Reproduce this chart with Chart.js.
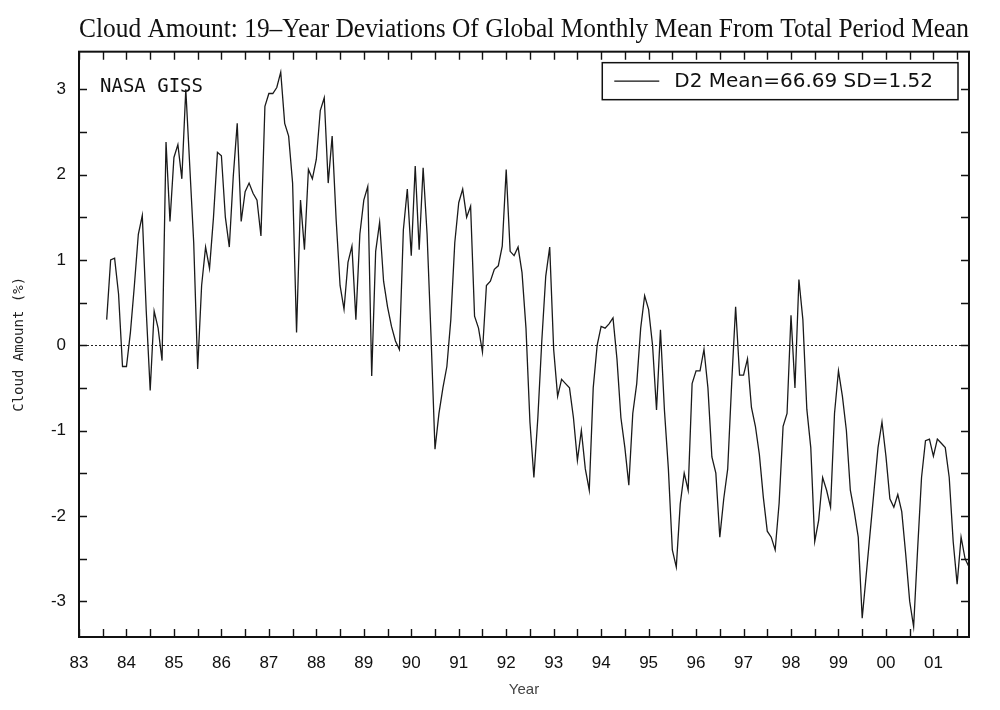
<!DOCTYPE html>
<html>
<head>
<meta charset="utf-8">
<title>Cloud Amount Deviations</title>
<script src="https://cdn.jsdelivr.net/npm/chart.js@4.4.1/dist/chart.umd.min.js"></script>
<style>
  html, body { margin: 0; padding: 0; background: #fff; }
  #wrap { width: 1000px; height: 710px; }
</style>
</head>
<body>
<div id="wrap"><canvas id="cloudChart" width="1000" height="710"></canvas></div>
<script>
// DATA (one value per month)
const startYear = 1983;
const startMonth = 7;          // first value sits 7 months after Jan 1983
const deviations = [
    0.3, 1.0, 1.02, 0.6, -0.25,
    -0.25, 0.15, 0.7, 1.3, 1.52, 0.4, -0.53, 0.4, 0.2, -0.18, 2.38, 1.45,
    2.2, 2.35, 1.95, 3.0, 2.1, 1.2, -0.28, 0.7, 1.15, 0.9, 1.5, 2.26,
    2.22, 1.5, 1.15, 1.98, 2.6, 1.45, 1.8, 1.9, 1.78, 1.7, 1.28, 2.8,
    2.95, 2.95, 3.02, 3.2, 2.6, 2.45, 1.9, 0.15, 1.7, 1.12, 2.06, 1.95,
    2.18, 2.75, 2.9, 1.9, 2.45, 1.48, 0.7, 0.42, 0.97, 1.16, 0.3, 1.3,
    1.7, 1.86, -0.36, 1.1, 1.44, 0.75, 0.45, 0.22, 0.05, -0.05, 1.35, 1.83,
    1.05, 2.1, 1.12, 2.08, 1.3, 0.1, -1.22, -0.8, -0.5, -0.25, 0.3, 1.2,
    1.67, 1.83, 1.5, 1.63, 0.34, 0.2, -0.08, 0.7, 0.75, 0.89, 0.93, 1.16,
    2.06, 1.1, 1.05, 1.15, 0.85, 0.2, -0.9, -1.55, -0.85, 0.05, 0.81, 1.15,
    -0.05, -0.6, -0.4, -0.45, -0.5, -0.85, -1.35, -1.0, -1.45, -1.7, -0.5, 0.0,
    0.22, 0.2, 0.25, 0.32, -0.16, -0.85, -1.2, -1.64, -0.8, -0.45, 0.2, 0.58,
    0.42, 0.0, -0.76, 0.18, -0.76, -1.45, -2.4, -2.6, -1.86, -1.5, -1.7, -0.45,
    -0.3, -0.3, -0.05, -0.5, -1.31, -1.5, -2.25, -1.8, -1.45, -0.45, 0.45, -0.35,
    -0.35, -0.16, -0.73, -0.95, -1.28, -1.78, -2.18, -2.25, -2.4, -1.85, -0.95, -0.8,
    0.35, -0.5, 0.77, 0.3, -0.75, -1.2, -2.3, -2.05, -1.55, -1.7, -1.9, -0.8,
    -0.3, -0.6, -1.0, -1.7, -1.95, -2.25, -3.2, -2.7, -2.2, -1.7, -1.2, -0.9,
    -1.3, -1.8, -1.9, -1.75, -1.95, -2.45, -3.0, -3.3, -2.4, -1.55, -1.12, -1.1,
    -1.3, -1.1, -1.15, -1.2, -1.55, -2.3, -2.8, -2.25, -2.5, -2.6
];
const yearLabels = ['83', '84', '85', '86', '87', '88', '89', '90', '91', '92',
                    '93', '94', '95', '96', '97', '98', '99', '00', '01'];
const valueLabels = ['-3', '-2', '-1', '0', '1', '2', '3'];
const seriesLabel = 'D2 Mean=66.69 SD=1.52';
const sourceNote = 'NASA GISS';
const chartTitle = 'Cloud Amount: 19\u2013Year Deviations Of Global Monthly Mean From Total Period Mean';

// build points for the linear x scale
const points = deviations.map((v, i) => ({ x: startYear + (startMonth + i) / 12, y: v }));

// frame, inward tick marks, dotted zero line, note and legend box
const plotDecor = {
    id: 'plotDecor',
    beforeDatasetsDraw(chart) {
        const { ctx, chartArea: a, scales: { y } } = chart;
        const py = Math.round(y.getPixelForValue(0)) + 0.5;
        ctx.save();
        ctx.strokeStyle = '#222';
        ctx.lineWidth = 1;
        ctx.setLineDash([2, 2]);
        ctx.beginPath();
        ctx.moveTo(a.left, py);
        ctx.lineTo(a.right, py);
        ctx.stroke();
        ctx.restore();
    },
    afterDatasetsDraw(chart) {
        const { ctx, chartArea: a, scales: { x, y } } = chart;
        const tick = 8;
        ctx.save();
        ctx.strokeStyle = '#111';
        ctx.lineWidth = 1.4;
        ctx.beginPath();
        x.ticks.forEach(t => {
            const px = Math.round(x.getPixelForValue(t.value)) + 0.5;
            ctx.moveTo(px, a.bottom); ctx.lineTo(px, a.bottom - tick);
            ctx.moveTo(px, a.top); ctx.lineTo(px, a.top + tick);
        });
        y.ticks.forEach(t => {
            const py = Math.round(y.getPixelForValue(t.value)) + 0.5;
            ctx.moveTo(a.left, py); ctx.lineTo(a.left + tick, py);
            ctx.moveTo(a.right, py); ctx.lineTo(a.right - tick, py);
        });
        ctx.stroke();

        // frame
        ctx.lineWidth = 2;
        ctx.strokeRect(a.left, a.top, a.right - a.left, a.bottom - a.top);

        // source note
        ctx.fillStyle = '#111';
        ctx.font = '19px "DejaVu Sans Mono", monospace';
        ctx.textBaseline = 'middle';
        ctx.textAlign = 'left';
        ctx.fillText(sourceNote, a.left + 21, a.top + 35);

        // legend box
        ctx.font = '20px "DejaVu Sans", sans-serif';
        const tw = ctx.measureText(seriesLabel).width;
        const boxR = a.right - 11, boxT = a.top + 11, boxH = 37;
        const boxL = boxR - (tw + 25 + 72);
        ctx.fillStyle = '#fff';
        ctx.fillRect(boxL, boxT, boxR - boxL, boxH);
        ctx.lineWidth = 1.5;
        ctx.strokeRect(boxL, boxT, boxR - boxL, boxH);
        const midY = boxT + boxH / 2;
        ctx.lineWidth = 1.2;
        ctx.beginPath();
        ctx.moveTo(boxL + 12, midY);
        ctx.lineTo(boxL + 57, midY);
        ctx.stroke();
        ctx.fillStyle = '#111';
        ctx.fillText(seriesLabel, boxL + 72, midY + 1);
        ctx.restore();
    }
};

const ctx = document.getElementById('cloudChart').getContext('2d');
new Chart(ctx, {
    type: 'line',
    data: {
        datasets: [{
            label: seriesLabel,
            data: points,
            borderColor: '#1a1a1a',
            borderWidth: 1.3,
            pointRadius: 0,
            tension: 0,
            fill: false
        }]
    },
    options: {
        responsive: false,
        animation: false,
        layout: { padding: { left: 0, right: 31, top: 0, bottom: 0 } },
        plugins: {
            legend: { display: false },
            tooltip: { enabled: false },
            title: {
                display: true,
                fullSize: false,
                text: chartTitle,
                color: '#111',
                font: { family: '"Liberation Serif", "Times New Roman", serif', size: 26.4, weight: 'normal', lineHeight: 1.2 },
                padding: { top: 14, bottom: 6 }
            }
        },
        scales: {
            x: {
                type: 'linear',
                min: 1983,
                max: 2001.75,
                afterFit: s => { s.height = 73; },
                grid: { display: false, drawTicks: false },
                border: { display: false },
                ticks: {
                    stepSize: 0.5,
                    includeBounds: false,
                    autoSkip: false,
                    maxRotation: 0,
                    padding: 16,
                    color: '#111',
                    font: { family: '"Liberation Sans Narrow", "Liberation Sans", Arial, sans-serif', size: 17 },
                    callback: v => Number.isInteger(v) ? yearLabels[v - startYear] : ''
                },
                title: {
                    display: true,
                    text: 'Year',
                    color: '#444',
                    font: { family: '"Liberation Sans", Arial, sans-serif', size: 15 },
                    padding: { top: 0, bottom: 11 }
                }
            },
            y: {
                min: -3.42,
                max: 3.44,
                afterFit: s => { s.width = 79; },
                grid: { display: false, drawTicks: false },
                border: { display: false },
                ticks: {
                    stepSize: 0.5,
                    includeBounds: false,
                    padding: 13,
                    color: '#111',
                    font: { family: '"Liberation Sans", Arial, sans-serif', size: 17 },
                    callback: v => Number.isInteger(v) ? valueLabels[v + 3] : ''
                },
                title: {
                    display: true,
                    text: 'Cloud Amount (%)',
                    color: '#222',
                    font: { family: '"DejaVu Sans Mono", monospace', size: 14 },
                    padding: { top: 11, bottom: 0 }
                }
            }
        }
    },
    plugins: [plotDecor]
});
</script>
</body>
</html>
